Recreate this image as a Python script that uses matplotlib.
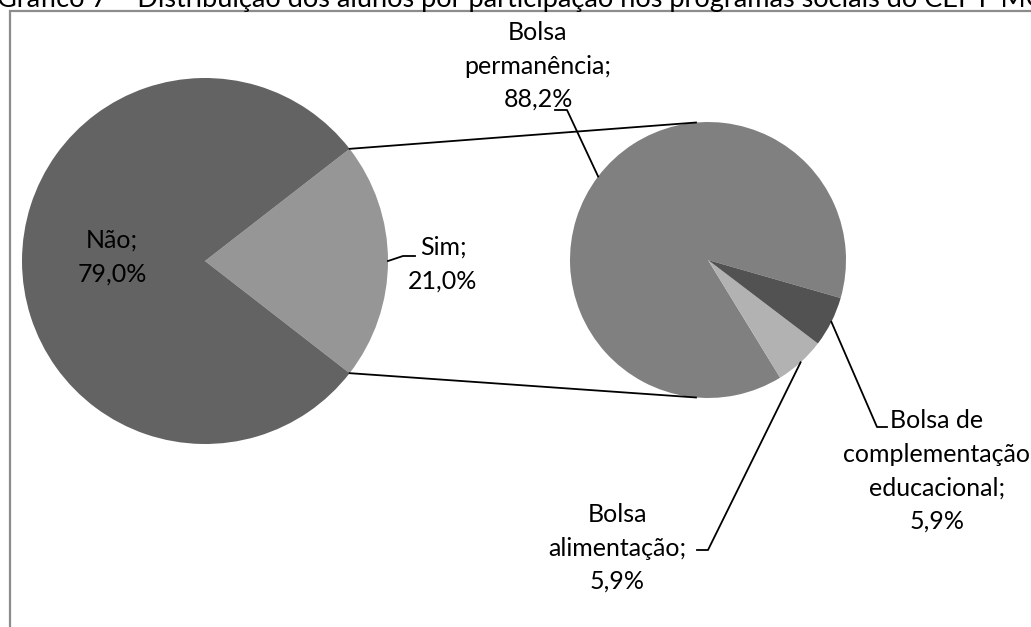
import numpy as np
import matplotlib.pyplot as plt
from matplotlib.patches import Rectangle

# data
titulo = "Gráfico 7 – Distribuição dos alunos por participação nos programas sociais do CEPT-MG"
sim_nao_labels = ["Sim", "Não"]
sim_nao_vals = [21.0, 79.0]
bolsa_labels = ["Bolsa\npermanência", "Bolsa\nalimentação", "Bolsa de\ncomplementação\neducacional"]
bolsa_vals = [88.2, 5.9, 5.9]

W, H = 1031, 627
plt.rcParams['font.family'] = ['Lato', 'DejaVu Sans']

fig = plt.figure(figsize=(W/100, H/100), dpi=100)
ax = fig.add_axes([0, 0, 1, 1])

def fmt(lab, v):
	return "{};\n{:.1f}%".format(lab, v).replace('.', ',')

# left pie (pixel coords, y up)
c1 = (205, H-261)
r1 = 183
a_sim = sim_nao_vals[0] / sum(sim_nao_vals) * 360
ax.pie(sim_nao_vals, colors=['#969696', '#636363'], startangle=-a_sim/2,
	center=c1, radius=r1, counterclock=True, frame=True,
	wedgeprops=dict(linewidth=0))

# right pie
c2 = (708, H-260)
r2 = 138
start2 = -16
ax.pie(bolsa_vals, colors=['#808080', '#b2b2b2', '#525252'], startangle=start2,
	center=c2, radius=r2, counterclock=True, frame=True,
	wedgeprops=dict(linewidth=0))

# connecting lines between the pies
for s in (1, -1):
	p1 = (c1[0] + r1*np.cos(np.radians(a_sim/2)), c1[1] + s*r1*np.sin(np.radians(a_sim/2)))
	p2 = (c2[0] + r2*np.cos(np.radians(95)), c2[1] + s*r2*np.sin(np.radians(95)))
	ax.plot([p1[0], p2[0]], [p1[1], p2[1]], color='black', lw=1.3)

fs = 18
ls = 1.55

# labels left pie
ax.text(112, H-257, fmt(sim_nao_labels[1], sim_nao_vals[1]), ha='center', va='center',
	fontsize=fs, linespacing=ls, color='black')
ax.plot([c1[0]+r1, 403, 415], [c1[1], H-256, H-256], color='black', lw=1.3)
ax.text(443, H-264, fmt(sim_nao_labels[0], sim_nao_vals[0]), ha='center', va='center',
	fontsize=fs, linespacing=ls)

# labels right pie
cum = np.cumsum([0] + bolsa_vals)
mids = start2 + (cum[:-1] + cum[1:]) / 2 / sum(bolsa_vals) * 360
elbows = [[(567, H-110), (555, H-110)],
	[(708, H-550), (697, H-550)],
	[(877, H-427), (887, H-427)]]
txt_pos = [(538, H-66), (617, H-548), (937, H-471)]
for lab, v, m, el, tp in zip(bolsa_labels, bolsa_vals, mids, elbows, txt_pos):
	e = (c2[0] + r2*np.cos(np.radians(m)), c2[1] + r2*np.sin(np.radians(m)))
	xs = [e[0]] + [p[0] for p in el]
	ys = [e[1]] + [p[1] for p in el]
	ax.plot(xs, ys, color='black', lw=1.3)
	ax.text(tp[0], tp[1], fmt(lab, v), ha='center', va='center',
		fontsize=fs, linespacing=ls)

# chart frame (extends past the image)
ax.add_patch(Rectangle((10, -20), W+20, H-11+20, fill=False, edgecolor='#8c8c8c', lw=1.6))

# title, cut at the top edge as in the source image
ax.text(-3, H-7, titulo, ha='left', va='baseline', fontsize=19.5, color='black')

ax.set_xlim(0, W)
ax.set_ylim(0, H)
ax.set_aspect('auto')
ax.axis('off')

fig.savefig("out.png", dpi=100)
